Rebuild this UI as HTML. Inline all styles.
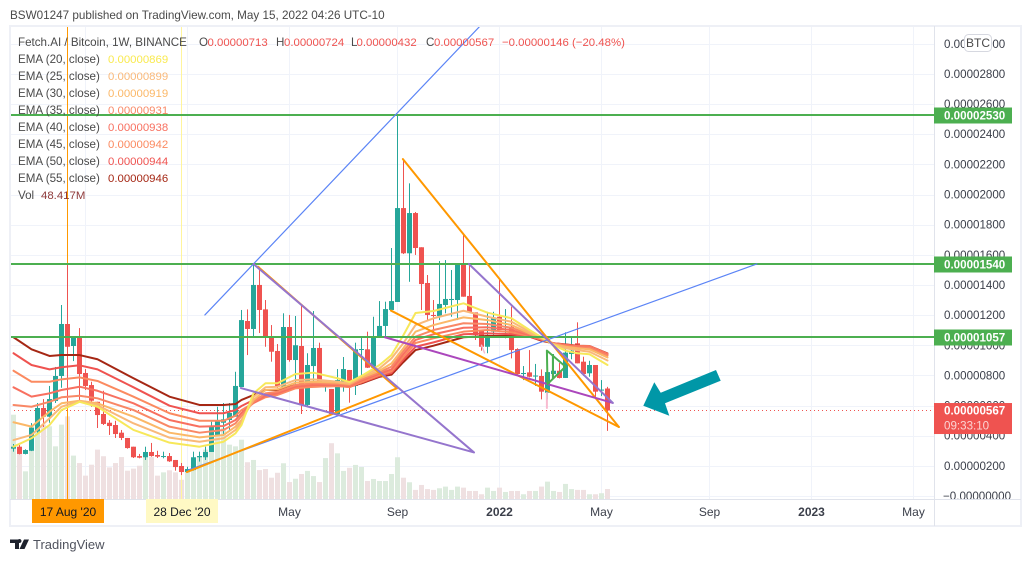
<!DOCTYPE html>
<html lang="en">
<head>
<meta charset="utf-8">
<title>Fetch.AI / Bitcoin chart</title>
<style>
html,body{margin:0;padding:0;background:#fff;width:1032px;height:562px;overflow:hidden}
svg{display:block;font-family:"Liberation Sans",sans-serif}
text{white-space:pre}
.v{font-size:11.4px}
</style>
</head>
<body>
<svg id="chart" xmlns="http://www.w3.org/2000/svg" width="1032" height="562" viewBox="0 0 1032 562">
  <defs>
    <clipPath id="plot-clip"><rect x="10" y="26" width="924" height="473"/></clipPath>
    <clipPath id="axis-clip"><rect x="935" y="27" width="86" height="472"/></clipPath>
  </defs>
  <text x="10" y="19" font-size="11.7" fill="#4a4a4a">BSW01247 published on TradingView.com, May 15, 2022 04:26 UTC-10</text>
  <g id="grid"></g>
  <g id="plot" clip-path="url(#plot-clip)"></g>
  <g id="axes"></g>

  <g font-size="11.6" fill="#4a4a4a">
    <text x="18" y="46">Fetch.AI / Bitcoin, 1W, BINANCE</text>
    <text x="199" y="46">O</text>
    <text class="v" x="207.500" y="46" fill="#ef5350">0.00000713</text>
    <text x="276" y="46">H</text>
    <text class="v" x="284" y="46" fill="#ef5350">0.00000724</text>
    <text x="351" y="46">L</text>
    <text class="v" x="356.500" y="46" fill="#ef5350">0.00000432</text>
    <text x="426" y="46">C</text>
    <text class="v" x="434" y="46" fill="#ef5350">0.00000567</text>
    <text class="v" x="502" y="46" fill="#ef5350">−0.00000146 (−20.48%)</text>
    <text x="18" y="63">EMA (20, close)</text>
    <text class="v" x="108" y="63" fill="#f9ea4f">0.00000869</text>
    <text x="18" y="80">EMA (25, close)</text>
    <text class="v" x="108" y="80" fill="#f9b97a">0.00000899</text>
    <text x="18" y="97">EMA (30, close)</text>
    <text class="v" x="108" y="97" fill="#fbb868">0.00000919</text>
    <text x="18" y="114">EMA (35, close)</text>
    <text class="v" x="108" y="114" fill="#f98866">0.00000931</text>
    <text x="18" y="131">EMA (40, close)</text>
    <text class="v" x="108" y="131" fill="#f87060">0.00000938</text>
    <text x="18" y="148">EMA (45, close)</text>
    <text class="v" x="108" y="148" fill="#fb8a60">0.00000942</text>
    <text x="18" y="165">EMA (50, close)</text>
    <text class="v" x="108" y="165" fill="#ef5350">0.00000944</text>
    <text x="18" y="182">EMA (55, close)</text>
    <text class="v" x="108" y="182" fill="#a52714">0.00000946</text>
    <text x="18" y="199">Vol</text>
    <text class="v" x="41" y="199" fill="#8f3a3a">48.417M</text>
  </g>

  <g>
    <rect x="964.5" y="34.5" width="27" height="17" rx="4" fill="#fff" stroke="#d6d8e0"/>
    <text x="978" y="47" font-size="12" text-anchor="middle" fill="#4a4a4a">BTC</text>
  </g>

  <g>
    <path d="M10 539.5h9v9.5h-4v-6h-5z M19.5 543a2 2 0 1 1 0.01 0z M24 539.5h5l-4.500 9.500h-5z" fill="#1e222d"/>
    <text x="33" y="549" font-size="13" fill="#50535e">TradingView</text>
  </g>
</svg>

<script>
// Weekly candles, prices in units of 1e-8 BTC
const opens = [314,327,279,300,427,584,526,630,796,1141,995,1055,816,736,625,544,486,471,420,385,327,265,257,292,272,261,265,239,199,159,172,257,257,292,405,486,504,526,723,1161,1108,1400,1238,1053,962,725,1121,902,995,604,862,982,723,710,544,750,836,730,970,973,851,1057,1128,1234,1287,1910,1610,1877,1650,1413,1201,1194,1267,1300,1300,1539,1327,1218,1101,990,1090,1189,1118,1123,975,809,820,793,796,685,809,831,783,942,1013,891,814,869,699,713];
const highs = [345,338,310,484,617,643,730,856,1267,1545,1055,1114,842,758,625,698,504,499,438,385,327,279,327,352,300,294,285,239,219,194,294,294,327,493,592,617,617,824,1234,1238,1544,1521,1300,1134,1008,1212,1201,1194,1267,947,1227,1017,750,710,842,922,836,1017,1055,1090,1189,1293,1289,1645,2527,2233,2074,1884,1650,1466,1300,1559,1565,1499,1544,1731,1539,1218,1101,1222,1222,1446,1240,1256,980,862,968,876,840,822,942,882,1086,1053,1152,924,897,869,769,724];
const lows = [294,276,276,298,420,458,486,617,718,590,895,637,703,592,451,471,405,385,371,314,252,250,239,261,252,250,226,168,139,155,168,228,239,292,405,411,438,526,723,935,1057,1081,990,891,716,716,891,725,544,588,736,736,692,544,544,692,619,670,803,849,849,1048,1053,1234,1287,1605,1421,1599,1234,1167,1090,1167,1212,1189,1167,1322,1214,1035,964,947,1068,1101,1046,913,805,769,787,730,641,641,783,780,783,907,880,796,791,657,663,432];
const closes = [327,279,305,453,584,526,643,796,1141,990,1055,809,730,632,537,478,464,411,385,318,257,254,292,265,261,265,230,192,159,179,257,265,292,460,504,509,551,730,1167,1108,1400,1234,1053,957,725,1121,902,1000,604,869,982,748,730,544,769,842,748,973,975,851,1057,1128,1240,1293,1910,1610,1877,1645,1406,1201,1194,1274,1307,1307,1539,1322,1220,1068,990,1068,1185,1101,1124,968,809,816,791,799,692,822,831,783,951,964,880,809,869,692,706,567];
const volumes = [408,239,134,352,368,360,352,255,360,400,210,174,113,166,239,207,153,174,203,137,147,161,207,203,113,129,139,129,93,142,174,207,239,303,311,344,263,255,287,178,189,140,145,103,127,173,82,98,121,136,111,82,198,270,221,136,151,165,155,87,97,87,87,121,202,103,81,44,68,48,44,52,60,44,60,55,39,39,23,55,39,55,34,39,39,23,39,39,60,84,39,34,73,48,44,44,23,23,28,48.4];

// EMA readings taken at these candle indexes
const emaWeeks = [0,3,6,8,11,14,20,26,31,35,37,38,40,42,44,47,50,54,56,58,61,63,65,67,70,75,79,83,86,88,90,92,94,96,99];
const ema55 = [1053,973,929,935,935,907,781,659,604,604,610,637,670,703,703,736,736,736,726,747,791,805,889,968,997,1053,1061,1061,1057,1030,1013,1006,997,995,946];
const ema50 = [947,869,840,854,867,840,721,599,549,549,570,597,637,670,681,721,725,730,723,752,796,816,905,990,1019,1073,1079,1073,1057,1035,1013,1004,995,995,944];
const ema45 = [831,758,758,774,787,763,659,549,499,499,533,570,617,655,670,714,725,730,723,756,803,827,922,1015,1046,1090,1101,1086,1061,1039,1013,1002,993,993,942];
const ema40 = [721,659,681,703,725,698,615,504,460,464,504,551,617,665,681,725,736,736,730,765,811,840,942,1035,1073,1116,1119,1101,1066,1041,1013,1000,990,990,938];
const ema35 = [604,592,625,655,665,648,570,460,420,438,482,531,624,681,692,736,748,743,736,774,820,858,962,1057,1101,1146,1141,1116,1073,1043,1010,995,986,984,931];
const ema30 = [489,460,559,615,632,615,526,420,389,405,460,504,637,703,708,752,758,752,743,785,831,880,982,1090,1134,1185,1167,1134,1079,1046,1008,990,980,973,919];
const ema25 = [371,405,515,592,630,602,482,387,360,383,438,491,657,721,725,769,774,758,750,796,847,913,1015,1134,1179,1229,1189,1156,1090,1050,1006,980,968,957,899];
const ema20 = [327,383,471,570,625,592,438,354,327,360,416,471,681,748,748,809,818,781,756,796,869,935,1068,1214,1227,1278,1216,1179,1101,1053,1002,964,947,940,869];

// Axis content
const priceTicks = [0,200,400,600,800,1000,1200,1400,1600,1800,2000,2200,2400,2600,2800,3000];
const timeTickWeeks = [12,29,46,64,81,98,116,133,150];
const timeTickLabels = ['Sep','2021','May','Sep','2022','May','Sep','2023','May'];
const levelPrices = [2530,1540,1057];
const lastPrice = 567;
const crosshairWeeks = [9,28];

// Drawing tool anchors as [week, price]
const blueRayA = [[31.9,1201],[77.75,3117]];
const blueRayB = [[29.1,172],[123.9,1539]];
const orangeFallA = [[64.9,2235],[100.9,458]];
const orangeFallB = [[62.9,1230],[100.9,458]];
const orangeWedge = [[40.75,1521],[63.9,714],[28.9,159]];
const purpleWedge = [[40,1539],[76.75,289],[37.9,716]];
const purpleLineF = [[61.9,1053],[99.75,619]];
const purpleLineG = [[75.9,1539],[99.9,617]];
const greenTriangle = [[88.9,964],[92,858],[89,743],[88.9,964]];
const greenInner = [[89.9,935],[89.9,783]];
const pinkMarkA = [[88.9,683],[88.9,584]];
const pinkMarkB = [[78,1000],[78.5,950]];

const NS = 'http://www.w3.org/2000/svg';
const xOf = w => 13.5 + 6 * w;
const yOf = p => 496 - p * 0.15075;
const volH = v => v / 4.84;
const VOL_BASE = 499;
const UP = '#26a69a', DOWN = '#ef5350';
const grid = document.getElementById('grid');
const plot = document.getElementById('plot');
const axes = document.getElementById('axes');

function mk(tag, attrs, parent, txt) {
  const e = document.createElementNS(NS, tag);
  for (const k in attrs) e.setAttribute(k, attrs[k]);
  if (txt !== undefined) e.textContent = txt;
  parent.appendChild(e);
  return e;
}
const fmt = p => (p / 1e8).toFixed(8);

// Horizontal and vertical grid
priceTicks.forEach(t => {
  const l = mk('line', {x1:10, x2:934, y1:Math.round(yOf(t))+0.5, y2:Math.round(yOf(t))+0.5, stroke:'#f0f3fa'}, grid);
  
  
});
timeTickWeeks.forEach(w => {
  const l = mk('line', {x1:Math.floor(xOf(w))+0.5, x2:Math.floor(xOf(w))+0.5, y1:26, y2:499, stroke:'#f0f3fa'}, grid);
  
  
});

// Volume bars
volumes.forEach((v, i) => {
  const h = volH(v);
  const r = mk('rect', {x:xOf(i)-2.5, y:VOL_BASE-h, width:5, height:h, fill:closes[i] >= opens[i] ? '#dcebdd' : '#efe0e1'}, plot);
  
  
});

// Last price dotted line
const dotted = mk('line', {x1:10, x2:934, y1:yOf(lastPrice), y2:yOf(lastPrice), stroke:'#ef5350', 'stroke-width':1, 'stroke-dasharray':'1 3'}, plot);



// Date crosshair markers
const crossA = mk('line', {x1:xOf(crosshairWeeks[0]), x2:xOf(crosshairWeeks[0]), y1:26, y2:499, stroke:'#ff9800', 'stroke-width':1}, plot);


const crossB = mk('line', {x1:xOf(crosshairWeeks[1]), x2:xOf(crosshairWeeks[1]), y1:26, y2:499, stroke:'#fff59d', 'stroke-width':1}, plot);



// Candles
opens.forEach((o, i) => {
  const c = closes[i], col = c >= o ? UP : DOWN;
  const top = yOf(Math.max(o, c)), bot = yOf(Math.min(o, c));
  const wick = mk('rect', {x:xOf(i)-0.5, y:yOf(highs[i]), width:1, height:yOf(lows[i])-yOf(highs[i]), fill:col}, plot);
  
  
  const body = mk('rect', {x:xOf(i)-2.5, y:top, width:5, height:Math.max(1, bot-top), fill:col}, plot);
  
  
});

// EMA ribbons
function drawEma(vals, color, name) {
  const pts = vals.map((v, k) => xOf(emaWeeks[k]) + ',' + yOf(v)).join(' ');
  const l = mk('polyline', {points:pts, fill:'none', stroke:color, 'stroke-width':2, 'stroke-linejoin':'round', 'stroke-linecap':'round'}, plot);
  
  
}
drawEma(ema55, '#a52714', 'ema-55-line');
drawEma(ema50, '#ef5350', 'ema-50-line');
drawEma(ema45, '#fb8a60', 'ema-45-line');
drawEma(ema40, '#f87060', 'ema-40-line');
drawEma(ema35, '#f98866', 'ema-35-line');
drawEma(ema30, '#fbb868', 'ema-30-line');
drawEma(ema25, '#f9b97a', 'ema-25-line');
drawEma(ema20, '#f7e85a', 'ema-20-line');

// Drawing tools
function drawShape(pts, color, width, name) {
  const s = pts.map(p => xOf(p[0]) + ',' + yOf(p[1])).join(' ');
  const l = mk('polyline', {points:s, fill:'none', stroke:color, 'stroke-width':width, 'stroke-linejoin':'round', 'stroke-linecap':'round'}, plot);
  
  
}
levelPrices.forEach(p => {
  const ly = Math.round(yOf(p));
  const l = mk('line', {x1:10, x2:934, y1:ly, y2:ly, stroke:'#4caf50', 'stroke-width':2}, plot);
  
  
});
drawShape(blueRayA, '#5b84f6', 1.2, 'blue-trendline-upper');
drawShape(blueRayB, '#5b84f6', 1.2, 'blue-trendline-lower');
drawShape(orangeWedge, '#ff9800', 2, 'orange-wedge');
drawShape(purpleWedge, '#9575cd', 2, 'purple-wedge');
drawShape(orangeFallA, '#ff9800', 2, 'orange-trendline-upper');
drawShape(orangeFallB, '#ff9800', 2, 'orange-trendline-lower');
drawShape(purpleLineF, '#ab47bc', 2, 'magenta-trendline');
drawShape(purpleLineG, '#9575cd', 2, 'purple-trendline');
drawShape(greenTriangle, '#4caf50', 2, 'green-triangle');
drawShape(greenInner, '#4caf50', 2, 'green-triangle-inner');
drawShape(pinkMarkA, '#f8bbd0', 2, 'pink-mark');
drawShape(pinkMarkB, '#f8bbd0', 1.5, 'pink-mark');

// Teal callout arrow
const arrow = mk('polygon', {points:'643.300,405.700 654.300,382.300 660.700,392.700 716,370 720.700,380.700 665,403.300 669.300,415.700', fill:'#0097a7'}, plot);



// Axis chrome
const frame = mk('rect', {x:10, y:26, width:1011, height:500, fill:'none', stroke:'#eef0f6', 'stroke-width':2}, axes);


const sepY = mk('line', {x1:934.5, x2:934.5, y1:26, y2:526, stroke:'#e0e3eb'}, axes);


const sepX = mk('line', {x1:10, x2:1021, y1:499.5, y2:499.5, stroke:'#e0e3eb'}, axes);



// Price tick labels
const tickGroup = mk('g', {'clip-path':'url(#axis-clip)'}, axes);
priceTicks.forEach(t => {
  const s = t === 0 ? '−0.00000000' : fmt(t);
  const lb = mk('text', {x: t === 0 ? 943 : 944, y:yOf(t)+4, 'font-size':11.6, fill:'#3b3f4a'}, tickGroup, s);
  
  
});

// Time tick labels
timeTickLabels.forEach((t, k) => {
  const bold = t === '2022' || t === '2023' || t === '2021';
  const lb = mk('text', {x:xOf(timeTickWeeks[k]), y:516, 'font-size':12, 'text-anchor':'middle', fill:'#3b3f4a', 'font-weight':bold ? 'bold' : 'normal'}, axes, t);
  
  
});

// Date badges
const badgeA = mk('rect', {x:32, y:499, width:72, height:24, fill:'#ff9800'}, axes);


const badgeAText = mk('text', {x:68, y:516, 'font-size':12, 'text-anchor':'middle', fill:'#131722'}, axes, "17 Aug '20");


const badgeB = mk('rect', {x:146, y:499, width:72, height:24, fill:'#fff9c4'}, axes);


const badgeBText = mk('text', {x:182, y:516, 'font-size':12, 'text-anchor':'middle', fill:'#131722'}, axes, "28 Dec '20");



// Level price tags
levelPrices.forEach(p => {
  const y = Math.round(yOf(p)) + 0.5;
  const r = mk('rect', {x:934, y:y-8, width:78, height:16, fill:'#4caf50'}, axes);
  
  
  const t = mk('text', {x:944, y:y+4, 'font-size':11.6, fill:'#fff', 'font-weight':'bold'}, axes, fmt(p));
  
  
});

// Last price tag with countdown
const tagY = yOf(lastPrice);
const lastTag = mk('rect', {x:934, y:tagY-7.5, width:78, height:31, fill:'#ef5350'}, axes);


const lastText = mk('text', {x:944, y:tagY+4, 'font-size':11.6, fill:'#fff', 'font-weight':'bold'}, axes, fmt(lastPrice));


const countdown = mk('text', {x:944, y:tagY+19, 'font-size':11.6, fill:'#fff', 'fill-opacity':0.75}, axes, '09:33:10');


</script>
</body>
</html>
